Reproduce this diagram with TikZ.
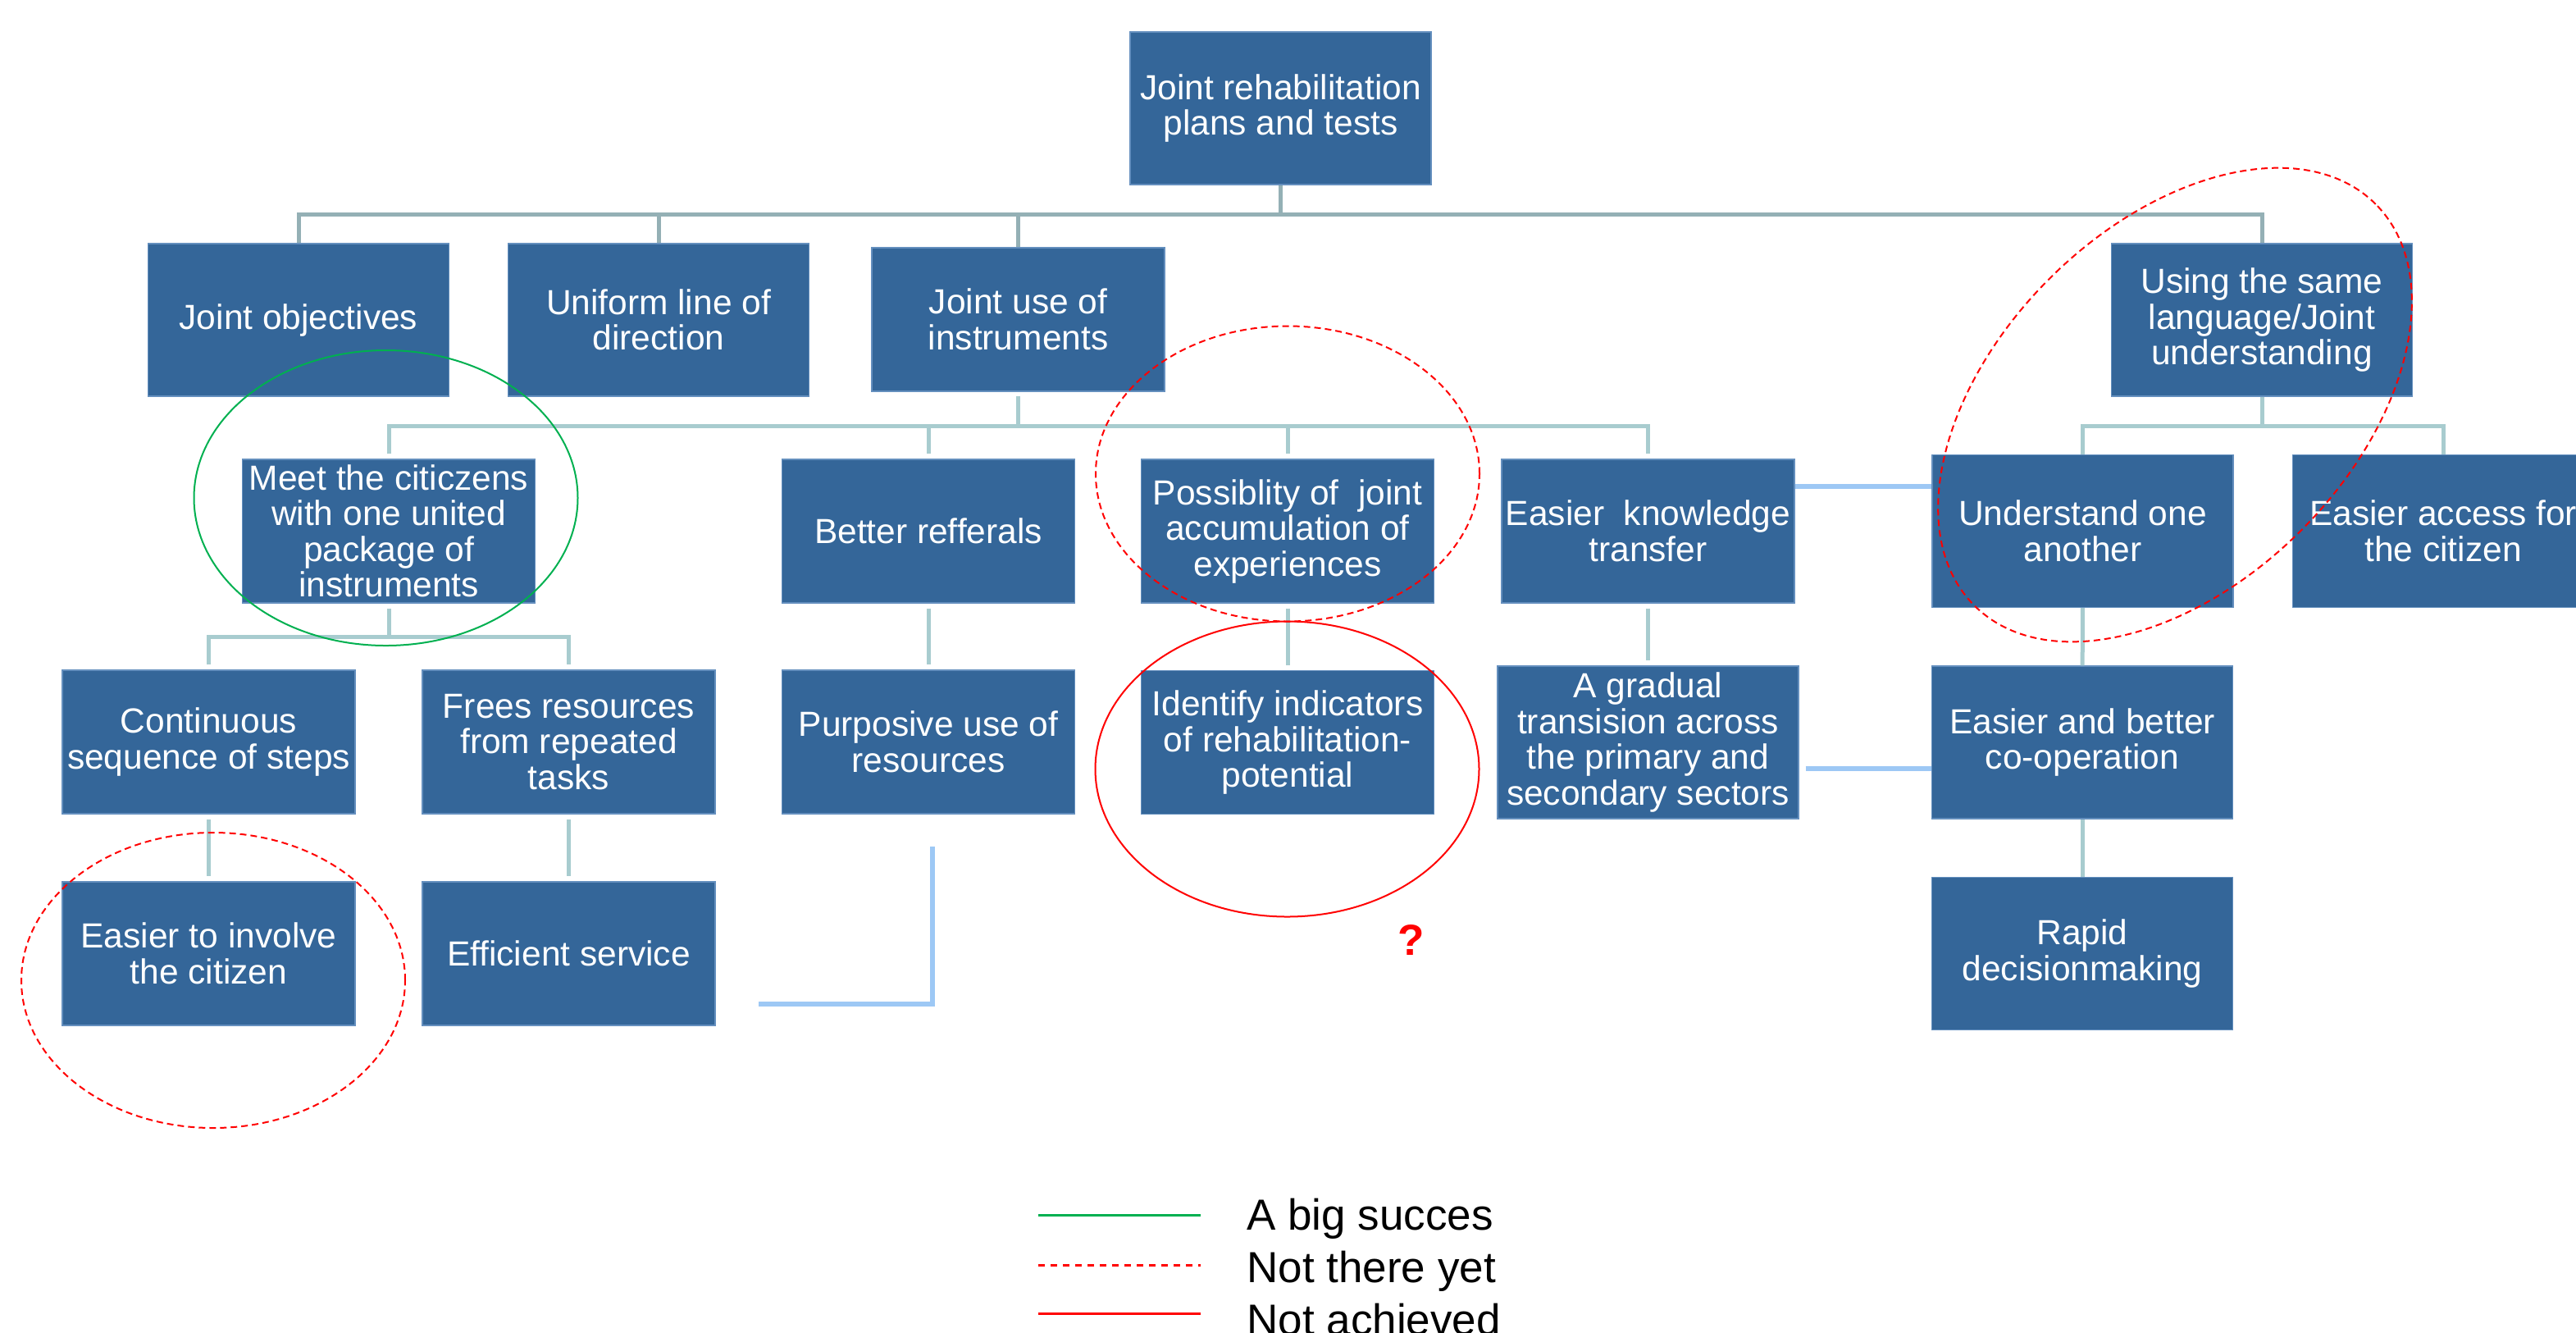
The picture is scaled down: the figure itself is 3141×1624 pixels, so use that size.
\documentclass[tikz,border=0pt]{standalone}
\usepackage{fontspec}
\setmainfont{Liberation Sans}
\usetikzlibrary{calc}
\definecolor{boxblue}{RGB}{52,102,153}
\definecolor{boxedge}{RGB}{100,143,190}
\definecolor{busdark}{RGB}{148,176,181}
\definecolor{buslight}{RGB}{168,204,207}
\definecolor{lblue}{RGB}{157,200,245}
\definecolor{sgreen}{RGB}{0,176,80}
\definecolor{sred}{RGB}{255,0,0}
\begin{document}
\begin{tikzpicture}[x=0.5pt,y=-0.5pt,
  box/.style={rectangle, fill=boxblue, draw=boxedge, line width=0.6pt, text=white,
    align=center, inner sep=0pt, font=\fontsize{21.25}{21.75}\selectfont},
  bs/.style={box, minimum width=178.5pt, minimum height=87.5pt},
  bl/.style={box, minimum width=183.5pt, minimum height=93pt},
  cdark/.style={draw=busdark, line width=2.5pt},
  clight/.style={draw=buslight, line width=2.5pt},
  lb/.style={draw=lblue, line width=2.6pt},
  gapped/.style={shorten <=3pt, shorten >=3pt},
  okring/.style={draw=sgreen, line width=1pt},
  yetring/.style={draw=sred, line width=1pt, dash pattern=on 4pt off 2.5pt},
  noring/.style={draw=sred, line width=1pt},
  legtext/.style={anchor=base west, inner sep=0pt, font=\fontsize{26.5}{32}\selectfont}
]
\useasboundingbox (0,0) rectangle (3141,1624);

% boxes
\node[bl] (top) at (1561.5,132) {Joint rehabilitation\\plans and tests};
\node[bl] (obj) at (364,390) {Joint objectives};
\node[bl] (uni) at (803,390) {Uniform line of\\direction};
\node[bs] (juse) at (1241.5,389.5) {Joint use of\\instruments};
\node[bl] (using) at (2758,390) {Using the same\\language/Joint\\understanding};
\node[bs] (meet) at (474,647.5) {Meet the citiczens\\with one united\\package of\\instruments};
\node[bs] (better) at (1132,647.5) {Better refferals};
\node[bs] (possib) at (1570,647.5) {Possiblity of\ \ joint\\accumulation of\\experiences};
\node[bs] (knowl) at (2009.5,647.5) {Easier\ \ knowledge\\transfer};
\node[bl] (underst) at (2539.5,647.5) {Understand one\\another};
\node[bl] (access) at (2979,647.5) {Easier access for\\the citizen};
\node[bs] (cont) at (254.5,904.5) {Continuous\\sequence of steps};
\node[bs] (frees) at (693.5,904.5) {Frees resources\\from repeated\\tasks};
\node[bs] (purp) at (1132,904.5) {Purposive use of\\resources};
\node[bs] (ident) at (1570,905) {Identify indicators\\of rehabilitation-\\potential};
\node[bl] (grad) at (2009.5,905) {A gradual\\transision across\\the primary and\\secondary sectors};
\node[bl] (easbet) at (2539,905) {Easier and better\\co-operation};
\node[bl] (rapid) at (2539,1162.5) {Rapid\\decisionmaking};
\node[bs] (involve) at (254.5,1162.5) {Easier to involve\\the citizen};
\node[bs] (effic) at (693.5,1162.5) {Efficient service};

% bus levels
\coordinate (b1) at (0,261);
\coordinate (b2) at (0,519);
\coordinate (b3) at (0,776);

% level 1
\draw[cdark] (top.south) -- (top.south |- b1);
\draw[cdark] (obj.north) -- (obj.north |- b1) -- (using.north |- b1) -- (using.north);
\draw[cdark] (uni.north) -- (uni.north |- b1);
\draw[cdark] (juse.north) -- (juse.north |- b1);

% level 2 (joint use)
\draw[clight, shorten <=2.5pt] (juse.south) -- (juse.south |- b2);
\draw[clight, gapped] (meet.north) -- (meet.north |- b2) -- (knowl.north |- b2) -- (knowl.north);
\draw[clight, shorten >=3pt] (better.north |- b2) -- (better.north);
\draw[clight, shorten >=3pt] (possib.north |- b2) -- (possib.north);

% level 2 (same language)
\draw[clight] (using.south) -- (using.south |- b2);
\draw[clight] (underst.north) -- (underst.north |- b2) -- (access.north |- b2) -- (access.north);

% level 3 (meet)
\draw[clight, shorten <=3pt] (meet.south) -- (meet.south |- b3);
\draw[clight, gapped] (cont.north) -- (cont.north |- b3) -- (frees.north |- b3) -- (frees.north);

% single links
\draw[clight, gapped] (better) -- (purp);
\draw[clight, gapped] (possib) -- (ident);
\draw[clight, gapped] (knowl) -- (grad);
\draw[clight] (underst) -- (easbet);
\draw[clight] (easbet) -- (rapid);
\draw[clight, gapped] (cont) -- (involve);
\draw[clight, gapped] (frees) -- (effic);

% light blue links
\coordinate (y593) at (0,593);
\coordinate (y937) at (0,937);
\draw[lb] (knowl.east |- y593) -- (underst.west |- y593);
\draw[lb, shorten <=4pt] (grad.east |- y937) -- (easbet.west |- y937);
\coordinate (La) at (925,1224);
\coordinate (Lb) at (1137,1224);
\coordinate (Lc) at (1137,1032);
\draw[lb] (La) -- (Lb) -- (Lc);

% rings
\draw[okring] (470.5,607) ellipse [x radius=117pt, y radius=90pt];
\draw[yetring] (260,1195) ellipse [x radius=117pt, y radius=90pt];
\draw[yetring] (1570,577.5) ellipse [x radius=117pt, y radius=90pt];
\draw[noring] (1569.5,937.5) ellipse [x radius=117pt, y radius=90pt];
\draw[yetring] (2652,493.5) ellipse [x radius=173pt, y radius=108.5pt, rotate=45];

% question mark
\node[text=sred, inner sep=0pt, font=\bfseries\fontsize{26.5}{30}\selectfont] (qm) at (1721,1146) {?};

% legend
\coordinate (g1a) at (1266,1481); \coordinate (g1b) at (1464,1481);
\coordinate (g2a) at (1266,1542); \coordinate (g2b) at (1464,1542);
\coordinate (g3a) at (1266,1601); \coordinate (g3b) at (1464,1601);
\draw[draw=sgreen, line width=1.5pt] (g1a) -- (g1b);
\draw[draw=sred, line width=1.5pt, dash pattern=on 4pt off 3.5pt] (g2a) -- (g2b);
\draw[draw=sred, line width=1.5pt] (g3a) -- (g3b);
\node[legtext] (leg1) at (1520,1499) {A big succes};
\node[legtext] (leg2) at (1520,1563) {Not there yet};
\node[legtext] (leg3) at (1520,1627) {Not achieved};
\end{tikzpicture}
\end{document}
